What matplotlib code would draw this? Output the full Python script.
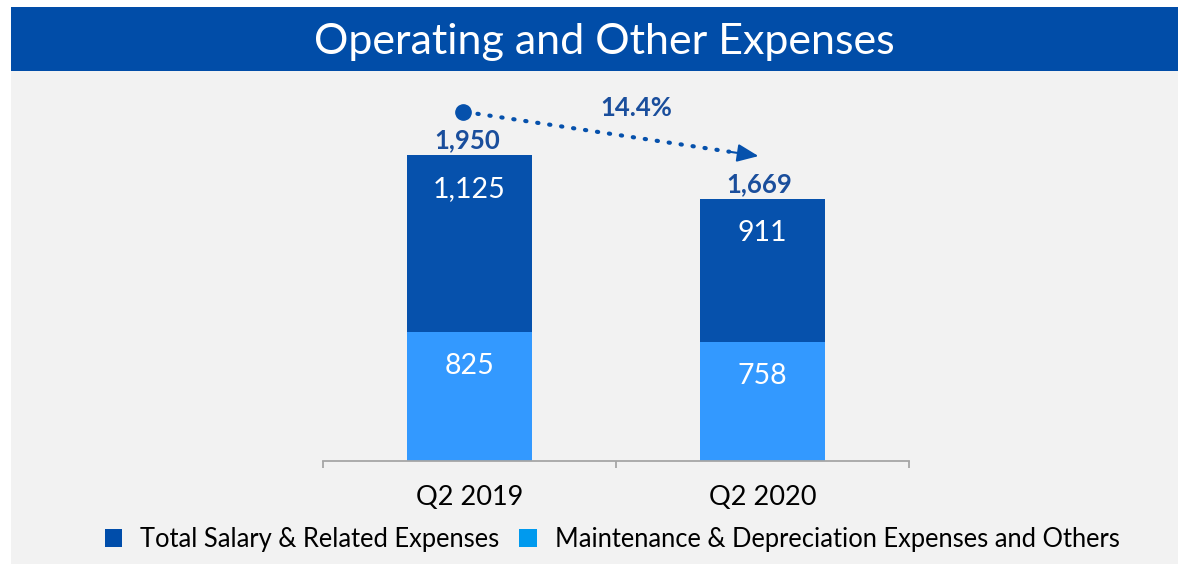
import matplotlib
matplotlib.use("Agg")
import matplotlib.pyplot as plt
from matplotlib.patches import Rectangle, Patch
from matplotlib.transforms import offset_copy

# ---- data ----
categories = ["Q2 2019", "Q2 2020"]
salary = [1125, 911]
maintenance = [825, 758]
totals = [1950, 1669]
series_names = ["Total Salary & Related Expenses",
                "Maintenance & Depreciation Expenses and Others"]
title = "Operating and Other Expenses"

FONT = "Lato"
plt.rcParams["font.family"] = [FONT, "DejaVu Sans"]

C_HEADER = "#014DA8"
C_DARK = "#0651AC"
C_LIGHT = "#3399FF"
C_LEG_DARK = "#004DAA"
C_LEG_LIGHT = "#009AEE"
C_LABEL = "#1A4E9C"
C_PANEL = "#F2F2F2"

W, H = 1178, 564
fig = plt.figure(figsize=(W / 100, H / 100), dpi=100)
fig.patch.set_facecolor("white")

# grey panel
fig.patches.append(Rectangle((11 / W, 0), 1 - 11 / W, (H - 71) / H,
                             transform=fig.transFigure, facecolor=C_PANEL,
                             edgecolor="none", zorder=-2))
# header
fig.patches.append(Rectangle((11 / W, (H - 71) / H), 1 - 11 / W, 64 / H,
                             transform=fig.transFigure, facecolor=C_HEADER,
                             edgecolor="none", zorder=-1))
fig.text(604 / W, 1 - 42 / H, title, color="white", fontsize=31,
         ha="center", va="center")

# axes
ax_left, ax_right = 323, 909
ax_top, ax_bottom = 100, 461
ax = fig.add_axes([ax_left / W, 1 - ax_bottom / H, (ax_right - ax_left) / W,
                   (ax_bottom - ax_top) / H])
ax.set_zorder(3)
ax.set_facecolor("none")
px_per_unit = 306 / 1950
ax.set_xlim(-0.5, 1.5)
ax.set_ylim(0, (ax_bottom - ax_top) / px_per_unit)

x = list(range(len(categories)))
bw = 0.425
ax.bar(x, maintenance, width=bw, color=C_LIGHT, zorder=2)
ax.bar(x, salary, width=bw, bottom=maintenance, color=C_DARK, zorder=2)

for xi, m, s, t in zip(x, maintenance, salary, totals):
    ax.annotate(f"{m:,}", (xi, m), xytext=(0, -24.5), textcoords="offset points",
                ha="center", va="center", color="white", fontsize=20.5)
    ax.annotate(f"{s:,}", (xi, m + s), xytext=(0, -24.5), textcoords="offset points",
                ha="center", va="center", color="white", fontsize=20.5)
    ax.annotate(f"{t:,}", (xi, t), xytext=(-2, 10.5), textcoords="offset points",
                ha="center", va="center", color=C_LABEL, fontsize=18.5,
                fontweight="bold")

# spines / ticks
for sp in ["top", "right", "left"]:
    ax.spines[sp].set_visible(False)
ax.spines["bottom"].set_color("#A6A6A6")
ax.spines["bottom"].set_linewidth(1.3)
ax.set_yticks([])
ax.set_xticks([-0.5, 0.5, 1.5])
ax.set_xticklabels([])
ax.tick_params(axis="x", which="major", length=5, width=1.3, color="#A6A6A6",
               direction="out")
ax.set_xticks(x, minor=True)
ax.set_xticklabels(categories, minor=True, fontsize=19.5, color="black")
ax.tick_params(axis="x", which="minor", length=0, pad=17)

# change arrow
tr = offset_copy(ax.transData, fig=fig, x=-4, y=43, units="dots")
ax.plot([x[0]], [totals[0]], marker="o", ms=11, color=C_DARK,
        transform=offset_copy(ax.transData, fig=fig, x=-7, y=43, units="dots"),
        zorder=5, clip_on=False)
frac = 0.9
xe = x[0] + frac * (x[1] - x[0])
ye = totals[0] + frac * (totals[1] - totals[0])
ax.plot([x[0], xe], [totals[0], ye], transform=tr, color=C_DARK, lw=3,
        linestyle=(0, (0.3, 2.6)), dash_capstyle="round", clip_on=False,
        zorder=4)
ax.annotate("", xy=(x[1], totals[1]), xytext=(xe, ye), xycoords=tr,
            textcoords=tr,
            arrowprops=dict(arrowstyle="-|>,head_length=1.3,head_width=0.55",
                            color=C_DARK, lw=1.5, shrinkA=0, shrinkB=0),
            annotation_clip=False)
pct = (totals[0] - totals[1]) / totals[0] * 100
ax.text((636 - ax_left) / (ax_right - ax_left), (ax_bottom - 108) / (ax_bottom - ax_top),
        f"{pct:.1f}%", transform=ax.transAxes, ha="center", va="center",
        color=C_LABEL, fontsize=18.5, fontweight="bold")

# legend
handles = [Patch(facecolor=C_LEG_DARK, edgecolor="none"),
           Patch(facecolor=C_LEG_LIGHT, edgecolor="none")]
fig.legend(handles, series_names, loc="center", bbox_to_anchor=(612 / W, 1 - 539 / H),
           ncol=2, frameon=False, fontsize=18.4, handlelength=0.7, handleheight=0.7,
           handletextpad=0.7, columnspacing=0.75)

fig.savefig("out.png", dpi=100, facecolor=fig.get_facecolor())
